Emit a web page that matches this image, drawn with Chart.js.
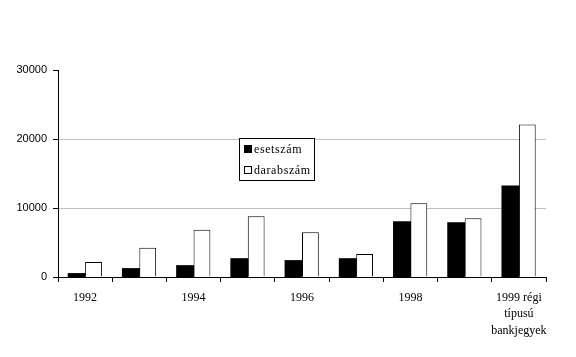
<!DOCTYPE html>
<html><head><meta charset="utf-8">
<script src="https://cdn.jsdelivr.net/npm/chart.js@4/dist/chart.umd.min.js"></script>
<style>html,body{margin:0;padding:0;background:#fff}#wrap{width:576px;height:357px}</style>
</head><body><div id="wrap"><canvas id="c" width="576" height="357"></canvas></div>
<script>
const categories = ['1992','1993','1994','1995','1996','1997','1998','1999',['1999 régi','típusú','bankjegyek']];
const esetszam = [480,1200,1630,2640,2360,2640,7990,7850,13190];
const darabszam = [2170,4230,6830,8810,6500,3320,10690,8530,22110];
const seriesNames = ['esetszám','darabszám'];
const yTicks = [0,10000,20000,30000];

const legendPlugin = {
  id:'boxLegend',
  afterDraw(chart){
    const ctx = chart.ctx;
    const x0=239.5, y0=138.5, w=75, h=42;
    ctx.save();
    ctx.fillStyle='#fff'; ctx.fillRect(x0,y0,w,h);
    ctx.strokeStyle='#000'; ctx.lineWidth=1; ctx.strokeRect(x0,y0,w,h);
    ctx.font='12px "Liberation Serif"';
    ctx.textBaseline='middle';
    chart.data.datasets.forEach((ds,i)=>{
      const cy = 150 + i*21;
      ctx.fillStyle=ds.backgroundColor;
      ctx.fillRect(244.5,cy-4.5,7,7);
      ctx.strokeStyle='#000';
      ctx.strokeRect(244.5,cy-4.5,7,7);
      ctx.fillStyle='#000';
      ctx.letterSpacing='0.6px';
      ctx.fillText(ds.label,254,cy);
    });
    ctx.restore();
  }
};

new Chart(document.getElementById('c'),{
  type:'bar',
  data:{labels:categories,datasets:[
    {label:seriesNames[0],data:esetszam,backgroundColor:'#000000',borderColor:'#000',borderWidth:0,inflateAmount:0.6},
    {label:seriesNames[1],data:darabszam,backgroundColor:'#ffffff',borderColor:'#000',borderWidth:1,borderSkipped:'bottom',inflateAmount:0}
  ]},
  plugins:[legendPlugin],
  options:{
    responsive:false,animation:false,
    layout:{padding:{left:0,right:30,top:70,bottom:0}},
    plugins:{legend:{display:false},tooltip:{enabled:false}},
    datasets:{bar:{categoryPercentage:0.62,barPercentage:1.0}},
    scales:{
      x:{
        afterFit(s){s.height=80;},
        grid:{offset:true,drawOnChartArea:false,color:'#000',tickLength:5,tickColor:'#000'},
        border:{color:'#000',width:1},
        ticks:{autoSkip:false,maxRotation:0,color:'#000',padding:8,font:{family:'Liberation Serif',size:12,lineHeight:1.35},
          callback(v,i){return i%2===0?categories[i]:'';}}
      },
      y:{
        min:0,max:30000,
        afterFit(s){s.width=58;},
        afterBuildTicks(s){s.ticks=yTicks.map(v=>({value:v}));},
        grid:{color(c){return (c.tick&&c.tick.value>0&&c.tick.value<30000)?'#c0c0c0':'rgba(0,0,0,0)';},tickColor:'#000',tickLength:5,drawTicks:true},
        border:{color:'#000',width:1},
        ticks:{color:'#000',padding:6,font:{family:'Liberation Sans',size:11},callback(v){return String(v);}}
      }
    }
  }
});
</script></body></html>
